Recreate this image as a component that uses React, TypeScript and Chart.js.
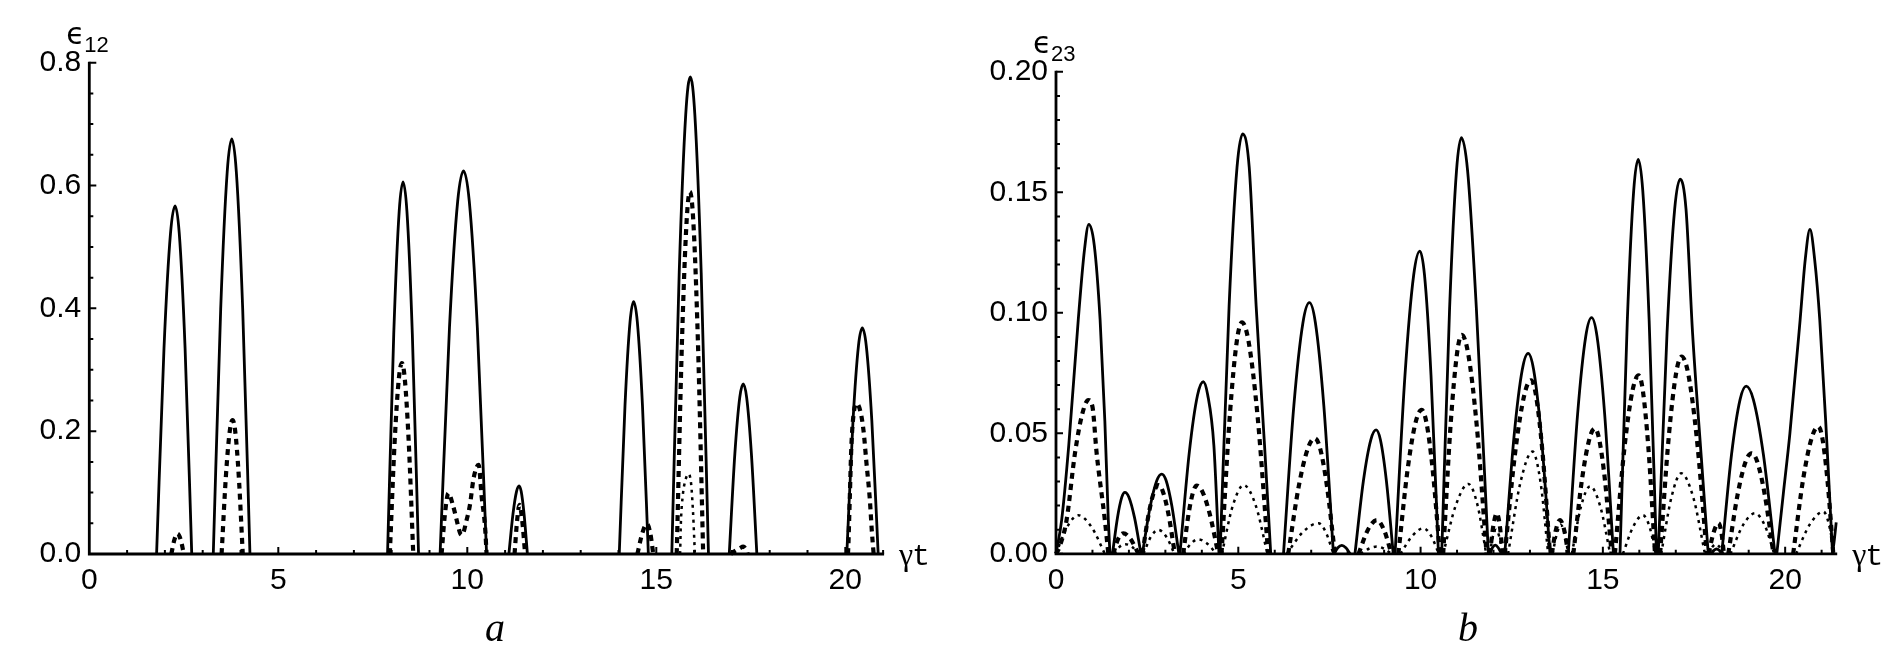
import React, { useEffect, useRef } from "react";
import { Chart, registerables } from "chart.js";

Chart.register(...registerables);

type Pt = [number, number];

// ---------- Panel a : epsilon_12 versus gamma t ----------
const aSolid: Pt[][] = [
  [[1.78, 0], [1.976, 0.335], [2.148, 0.522], [2.27, 0.567], [2.38, 0.522], [2.534, 0.335], [2.71, 0]],
  [[3.28, 0], [3.476, 0.399], [3.648, 0.622], [3.77, 0.676], [3.89, 0.622], [4.058, 0.399], [4.25, 0]],
  [[7.89, 0], [8.054, 0.358], [8.198, 0.558], [8.3, 0.606], [8.403, 0.558], [8.546, 0.358], [8.71, 0]],
  [[9.28, 0], [9.528, 0.368], [9.745, 0.574], [9.9, 0.624], [10.053, 0.574], [10.266, 0.368], [10.51, 0]],
  [[11.1, 0], [11.208, 0.065], [11.303, 0.102], [11.37, 0.111], [11.425, 0.102], [11.502, 0.065], [11.59, 0]],
  [[14.02, 0], [14.172, 0.242], [14.305, 0.378], [14.4, 0.411], [14.498, 0.378], [14.634, 0.242], [14.79, 0]],
  [[15.41, 0], [15.606, 0.458], [15.778, 0.715], [15.9, 0.777], [16.02, 0.715], [16.188, 0.458], [16.38, 0]],
  [[16.93, 0], [17.078, 0.163], [17.208, 0.255], [17.3, 0.277], [17.39, 0.255], [17.516, 0.163], [17.66, 0]],
  [[20.04, 0], [20.204, 0.217], [20.348, 0.339], [20.45, 0.368], [20.555, 0.339], [20.702, 0.217], [20.87, 0]],
];

const aDashed: Pt[][] = [
  [[2.17, 0], [2.25, 0.023], [2.33, 0.033], [2.42, 0.023], [2.5, 0]],
  [[3.5, 0], [3.616, 0.129], [3.718, 0.201], [3.79, 0.218], [3.858, 0.201], [3.952, 0.129], [4.06, 0]],
  [[7.95, 0], [8.078, 0.183], [8.19, 0.286], [8.27, 0.311], [8.345, 0.286], [8.45, 0.183], [8.57, 0]],
  [[9.32, 0], [9.4, 0.06], [9.5, 0.099], [9.63, 0.077], [9.72, 0.055], [9.81, 0.034], [9.86, 0.031], [9.98, 0.055], [10.07, 0.08], [10.16, 0.121], [10.25, 0.142], [10.3, 0.145], [10.38, 0.093], [10.47, 0.044], [10.51, 0]],
  [[11.25, 0], [11.32, 0.056], [11.38, 0.08], [11.45, 0.056], [11.53, 0]],
  [[14.5, 0], [14.63, 0.034], [14.75, 0.049], [14.84, 0.034], [14.92, 0]],
  [[15.54, 0], [15.68, 0.348], [15.803, 0.543], [15.89, 0.59], [15.978, 0.543], [16.1, 0.348], [16.24, 0]],
  [[16.97, 0], [17.08, 0.005], [17.2, 0.009], [17.3, 0.012], [17.37, 0.008], [17.42, 0]],
  [[20.07, 0], [20.08, 0.012], [20.12, 0.094], [20.16, 0.175], [20.22, 0.228], [20.3, 0.245], [20.4, 0.232], [20.48, 0.202], [20.56, 0.148], [20.65, 0.088], [20.7, 0.039], [20.75, 0]],
];

const aDotted: Pt[][] = [
  [[15.63, 0], [15.65, 0.05], [15.7, 0.095], [15.77, 0.12], [15.85, 0.13], [15.92, 0.115], [15.97, 0.07], [16.0, 0.03], [16.02, 0]],
];

const aXTicks = [0, 5, 10, 15, 20];
const aYTicks = [0, 0.2, 0.4, 0.6, 0.8];

// ---------- Panel b : epsilon_23 versus gamma t ----------
const bSolid: Pt[][] = [
  [[0, 0], [0.155, 0.014], [0.35, 0.045], [0.61, 0.097], [0.78, 0.126], [0.9, 0.1367], [1.05, 0.128], [1.21, 0.097], [1.34, 0.055], [1.435, 0.014], [1.48, 0]],
  [[1.55, 0], [1.686, 0.015], [1.805, 0.0235], [1.89, 0.0255], [2.0, 0.0235], [2.154, 0.015], [2.33, 0]],
  [[2.37, 0], [2.582, 0.0195], [2.768, 0.0305], [2.9, 0.0331], [3.018, 0.0305], [3.182, 0.0195], [3.37, 0]],
  [[3.4, 0], [3.656, 0.0421], [3.88, 0.0657], [4.04, 0.0714], [4.16, 0.066], [4.33, 0.045], [4.47, 0]],
  [[4.5, 0], [4.748, 0.1028], [4.965, 0.1603], [5.12, 0.1742], [5.3, 0.1603], [5.49, 0.1028], [5.72, 0.045], [5.89, 0]],
  [[6.24, 0], [6.524, 0.0615], [6.773, 0.0959], [6.95, 0.1042], [7.115, 0.0959], [7.346, 0.0615], [7.61, 0]],
  [[7.63, 0], [7.73, 0.0025], [7.84, 0.0035], [7.95, 0.0025], [8.07, 0]],
  [[8.2, 0], [8.432, 0.0303], [8.635, 0.0473], [8.78, 0.0514], [8.898, 0.0473], [9.062, 0.0303], [9.25, 0]],
  [[9.3, 0], [9.572, 0.0741], [9.81, 0.1156], [9.98, 0.1256], [10.108, 0.1156], [10.286, 0.0741], [10.49, 0]],
  [[10.58, 0], [10.796, 0.1019], [10.985, 0.1589], [11.12, 0.1727], [11.29, 0.1589], [11.53, 0.1019], [11.86, 0]],
  [[11.9, 0], [11.97, 0.0025], [12.05, 0.0036], [12.13, 0.0025], [12.22, 0]],
  [[12.31, 0], [12.566, 0.0491], [12.79, 0.0765], [12.95, 0.0832], [13.1, 0.0765], [13.31, 0.0491], [13.55, 0]],
  [[14.05, 0], [14.306, 0.0578], [14.53, 0.0902], [14.69, 0.098], [14.84, 0.0902], [15.05, 0.0578], [15.29, 0]],
  [[15.47, 0], [15.67, 0.0966], [15.845, 0.1506], [15.97, 0.1637], [16.095, 0.1506], [16.27, 0.0966], [16.47, 0]],
  [[16.52, 0], [16.76, 0.0917], [16.97, 0.1431], [17.12, 0.1555], [17.28, 0.1431], [17.46, 0.0917], [17.7, 0.04], [17.89, 0]],
  [[17.98, 0], [18.05, 0.0015], [18.12, 0.002], [18.19, 0.0015], [18.26, 0]],
  [[18.26, 0], [18.528, 0.0411], [18.763, 0.064], [18.93, 0.0696], [19.128, 0.064], [19.404, 0.0411], [19.72, 0]],
  [[19.77, 0], [19.95, 0.025], [20.13, 0.05], [20.41, 0.097], [20.55, 0.122], [20.68, 0.1346], [20.81, 0.122], [20.95, 0.097], [21.13, 0.05], [21.3, 0]],
  [[21.3, 0], [21.35, 0.006], [21.4, 0.013]],
];

const bDashed: Pt[][] = [
  [[0, 0], [0.1, 0.003], [0.29, 0.014], [0.52, 0.0417], [0.72, 0.058], [0.887, 0.0638], [1.0, 0.061], [1.115, 0.0417], [1.34, 0.014], [1.435, 0]],
  [[1.57, 0], [1.7, 0.006], [1.85, 0.0085], [2.05, 0.006], [2.26, 0]],
  [[2.37, 0], [2.546, 0.0168], [2.7, 0.0262], [2.81, 0.0285], [2.923, 0.0262], [3.08, 0.0168], [3.26, 0]],
  [[3.49, 0], [3.638, 0.0167], [3.768, 0.026], [3.86, 0.0283], [4.008, 0.026], [4.214, 0.0167], [4.45, 0]],
  [[4.54, 0], [4.764, 0.0566], [4.96, 0.0883], [5.1, 0.096], [5.28, 0.0883], [5.532, 0.0566], [5.82, 0]],
  [[6.37, 0], [6.662, 0.0283], [6.918, 0.0441], [7.1, 0.0479], [7.238, 0.0441], [7.43, 0.0283], [7.65, 0]],
  [[8.3, 0], [8.55, 0.0098], [8.8, 0.014], [9.0, 0.0098], [9.2, 0]],
  [[9.39, 0], [9.646, 0.0352], [9.87, 0.0549], [10.03, 0.0597], [10.155, 0.0549], [10.33, 0.0352], [10.53, 0]],
  [[10.62, 0], [10.824, 0.0536], [11.003, 0.0835], [11.13, 0.0908], [11.3, 0.0835], [11.538, 0.0536], [11.81, 0]],
  [[11.9, 0], [12.0, 0.012], [12.09, 0.0168], [12.17, 0.012], [12.25, 0]],
  [[12.31, 0], [12.598, 0.0425], [12.85, 0.0662], [13.03, 0.072], [13.16, 0.0662], [13.342, 0.0425], [13.55, 0]],
  [[13.6, 0], [13.71, 0.0098], [13.82, 0.014], [13.94, 0.0098], [14.05, 0]],
  [[14.19, 0], [14.426, 0.0307], [14.633, 0.0478], [14.78, 0.052], [14.895, 0.0478], [15.056, 0.0307], [15.24, 0]],
  [[15.33, 0], [15.59, 0.0437], [15.818, 0.0681], [15.98, 0.074], [16.093, 0.0681], [16.25, 0.0437], [16.43, 0]],
  [[16.57, 0], [16.806, 0.0483], [17.013, 0.0753], [17.16, 0.0818], [17.333, 0.0753], [17.574, 0.0483], [17.85, 0]],
  [[17.9, 0], [18.04, 0.009], [18.17, 0.0127], [18.25, 0.009], [18.32, 0]],
  [[18.44, 0], [18.696, 0.0246], [18.92, 0.0384], [19.08, 0.0417], [19.23, 0.0384], [19.44, 0.0246], [19.68, 0]],
  [[20.22, 0], [20.496, 0.0312], [20.738, 0.0486], [20.91, 0.0528], [21.013, 0.0486], [21.156, 0.0312], [21.32, 0]],
];

const bDotted: Pt[][] = [
  [[0, 0], [0.3, 0.011], [0.61, 0.016], [0.98, 0.011], [1.34, 0]],
  [[1.6, 0], [1.75, 0.003], [1.9, 0.004], [2.08, 0.003], [2.25, 0]],
  [[2.4, 0], [2.6, 0.007], [2.81, 0.0099], [3.03, 0.007], [3.25, 0]],
  [[3.5, 0], [3.7, 0.0042], [3.9, 0.006], [4.15, 0.0042], [4.4, 0]],
  [[4.55, 0], [4.85, 0.02], [5.15, 0.0285], [5.48, 0.02], [5.8, 0]],
  [[6.33, 0], [6.77, 0.009], [7.2, 0.0127], [7.4, 0.009], [7.61, 0]],
  [[8.35, 0], [8.58, 0.0021], [8.8, 0.003], [9.0, 0.0021], [9.2, 0]],
  [[9.45, 0], [9.77, 0.0074], [10.08, 0.0106], [10.29, 0.0074], [10.5, 0]],
  [[10.62, 0], [10.97, 0.0203], [11.31, 0.029], [11.56, 0.0203], [11.8, 0]],
  [[11.9, 0], [11.98, 0.007], [12.07, 0.01], [12.16, 0.007], [12.25, 0]],
  [[12.4, 0], [12.74, 0.0297], [13.07, 0.0424], [13.29, 0.0297], [13.5, 0]],
  [[13.62, 0], [13.74, 0.0084], [13.85, 0.012], [13.95, 0.0084], [14.05, 0]],
  [[14.15, 0], [14.4, 0.0196], [14.65, 0.028], [14.93, 0.0196], [15.2, 0]],
  [[15.55, 0], [15.83, 0.0112], [16.1, 0.016], [16.28, 0.0112], [16.45, 0]],
  [[16.6, 0], [16.88, 0.0234], [17.15, 0.0334], [17.48, 0.0234], [17.8, 0]],
  [[17.9, 0], [18.0, 0.0028], [18.1, 0.004], [18.2, 0.0028], [18.3, 0]],
  [[18.5, 0], [18.84, 0.0118], [19.17, 0.0168], [19.44, 0.0118], [19.7, 0]],
  [[20.3, 0], [20.68, 0.0123], [21.05, 0.0175], [21.2, 0.0123], [21.35, 0]],
];

const bXTicks = [0, 5, 10, 15, 20];
const bYTicks = [0, 0.05, 0.1, 0.15, 0.2];

// ---------- helpers ----------
function toData(arches: Pt[][]) {
  const out: { x: number; y: number | null }[] = [];
  arches.forEach((arch, i) => {
    if (i > 0) out.push({ x: arch[0][0], y: null });
    arch.forEach(([x, y]) => out.push({ x, y }));
  });
  return out;
}

interface Panel {
  key: string;
  sub: string;
  letter: string;
  letterX: number;
  solid: Pt[][];
  dashed: Pt[][];
  dotted: Pt[][];
  xTicks: number[];
  yTicks: number[];
  xMax: number;
  yMax: number;
  yMinor: number;
  dec: number;
  padTop: number;
  padRight: number;
  yAxisW: number;
  xAxisH: number;
}

const panelA: Panel = {
  key: "a", sub: "12", letter: "a", letterX: 495,
  solid: aSolid, dashed: aDashed, dotted: aDotted,
  xTicks: aXTicks, yTicks: aYTicks,
  xMax: 21, yMax: 0.8, yMinor: 0.05, dec: 1,
  padTop: 62.7, padRight: 66.9, yAxisW: 89.3, xAxisH: 115,
};

const panelB: Panel = {
  key: "b", sub: "23", letter: "b", letterX: 518,
  solid: bSolid, dashed: bDashed, dotted: bDotted,
  xTicks: bXTicks, yTicks: bYTicks,
  xMax: 21.4, yMax: 0.2, yMinor: 0.01, dec: 2,
  padTop: 71.8, padRight: 62.8, yAxisW: 106, xAxisH: 115.2,
};

function axesPlugin(p: Panel) {
  return {
    id: "axes_" + p.key,
    beforeDatasetsDraw(chart: any) {
      const ctx = chart.ctx as CanvasRenderingContext2D;
      const { left, right, top, bottom } = chart.chartArea;
      const xs = chart.scales.x;
      const ys = chart.scales.y;
      ctx.save();
      ctx.strokeStyle = "#000";
      ctx.lineWidth = 2.8;
      ctx.lineCap = "butt";
      ctx.beginPath();
      ctx.moveTo(left, top - 1);
      ctx.lineTo(left, bottom);
      ctx.lineTo(right + 1, bottom);
      ctx.stroke();
      ctx.lineWidth = 2;
      ctx.beginPath();
      for (let i = 0; i * p.yMinor <= p.yMax + 1e-9; i++) {
        const v = i * p.yMinor;
        const major = p.yTicks.some((t) => Math.abs(t - v) < 1e-9);
        const py = ys.getPixelForValue(v);
        ctx.moveTo(left, py);
        ctx.lineTo(left + (major ? 7 : 4), py);
      }
      for (let t = 1; t <= p.xMax + 1e-9; t++) {
        const major = p.xTicks.includes(t);
        const px = xs.getPixelForValue(t);
        ctx.moveTo(px, bottom);
        ctx.lineTo(px, bottom - (major ? 7 : 4));
      }
      ctx.stroke();
      ctx.restore();
    },
    afterDraw(chart: any) {
      const ctx = chart.ctx as CanvasRenderingContext2D;
      const { left, right, top, bottom } = chart.chartArea;
      ctx.save();
      ctx.fillStyle = "#000";
      ctx.textAlign = "left";
      ctx.textBaseline = "alphabetic";
      ctx.font = '30px "DejaVu Sans"';
      ctx.fillText("ϵ", left - 23, top - 18.5);
      ctx.font = '22px "Liberation Sans"';
      ctx.fillText(p.sub, left - 5, top - 10.5);
      ctx.font = '32px "Liberation Serif"';
      ctx.fillText("γ", right + 16, bottom + 11);
      ctx.font = '30px "Liberation Mono"';
      ctx.fillText("t", right + 29, bottom + 11);
      ctx.font = 'italic 40px "Liberation Serif"';
      ctx.textAlign = "center";
      ctx.fillText(p.letter, p.letterX, 641);
      ctx.restore();
    },
  };
}

function makeConfig(p: Panel): any {
  const common = {
    borderColor: "#000",
    pointRadius: 0,
    pointHoverRadius: 0,
    fill: false,
    spanGaps: false,
    cubicInterpolationMode: "monotone",
    clip: false,
  };
  const tickFont = { family: "Liberation Sans", size: 30, lineHeight: 1.2 };
  return {
    type: "line",
    data: {
      datasets: [
        { ...common, data: toData(p.solid), borderWidth: 2.8 },
        { ...common, data: toData(p.dashed), borderWidth: 4.2, borderDash: [6, 5] },
        { ...common, data: toData(p.dotted), borderWidth: 2.5, borderDash: [3, 4.5] },
      ],
    },
    options: {
      animation: false,
      responsive: false,
      devicePixelRatio: 1,
      events: [],
      layout: { padding: { left: 0, top: p.padTop, right: p.padRight, bottom: 0 } },
      plugins: { legend: { display: false }, tooltip: { enabled: false } },
      scales: {
        x: {
          type: "linear",
          min: 0,
          max: p.xMax,
          grid: { display: false, drawTicks: false },
          border: { display: false },
          ticks: {
            font: tickFont,
            color: "#000",
            padding: 9,
            maxRotation: 0,
            autoSkip: false,
            callback: (v: any) => String(v),
          },
          afterBuildTicks: (s: any) => {
            s.ticks = p.xTicks.map((v) => ({ value: v }));
          },
          afterFit: (s: any) => {
            s.height = p.xAxisH;
          },
        },
        y: {
          type: "linear",
          min: 0,
          max: p.yMax,
          grid: { display: false, drawTicks: false },
          border: { display: false },
          ticks: {
            font: tickFont,
            color: "#000",
            padding: 8,
            autoSkip: false,
            callback: (v: any) => Number(v).toFixed(p.dec),
          },
          afterBuildTicks: (s: any) => {
            s.ticks = p.yTicks.map((v) => ({ value: v }));
          },
          afterFit: (s: any) => {
            s.width = p.yAxisW;
          },
        },
      },
    },
    plugins: [axesPlugin(p)],
  };
}

export default function App() {
  const leftRef = useRef<HTMLCanvasElement>(null);
  const rightRef = useRef<HTMLCanvasElement>(null);

  useEffect(() => {
    const c1 = new Chart(leftRef.current as HTMLCanvasElement, makeConfig(panelA));
    const c2 = new Chart(rightRef.current as HTMLCanvasElement, makeConfig(panelB));
    return () => {
      c1.destroy();
      c2.destroy();
    };
  }, []);

  return (
    <div style={{ position: "absolute", left: 0, top: 0, width: 1899, height: 669, background: "#fff" }}>
      <canvas
        ref={leftRef}
        width={950}
        height={669}
        style={{ position: "absolute", left: 0, top: 0, width: 950, height: 669 }}
      />
      <canvas
        ref={rightRef}
        width={949}
        height={669}
        style={{ position: "absolute", left: 950, top: 0, width: 949, height: 669 }}
      />
    </div>
  );
}
